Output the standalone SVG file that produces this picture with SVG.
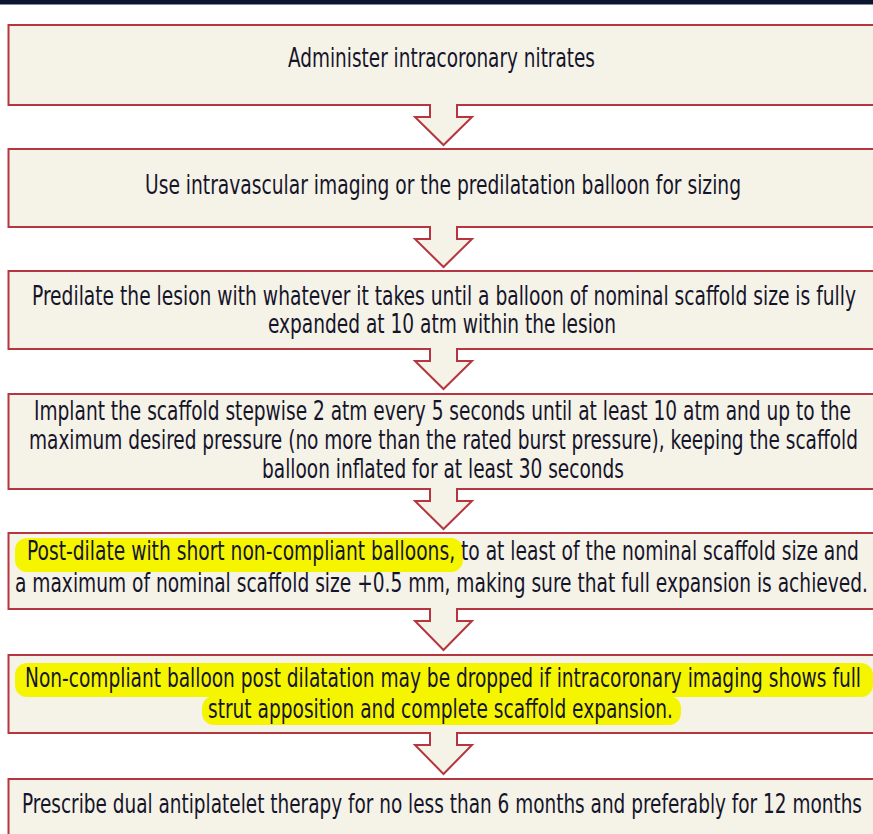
<svg xmlns="http://www.w3.org/2000/svg" width="873" height="834" viewBox="0 0 873 834">
<style>
.box{fill:#f5f2e8;stroke:#b5363f;stroke-width:2}
.arr{fill:#f5f2e8;stroke:#b5363f;stroke-width:2;stroke-linejoin:miter}
.cov{fill:#f5f2e8}
text{font-family:"Liberation Sans Narrow","DejaVu Sans Condensed","Liberation Sans",Arial,sans-serif;font-size:26px;fill:#15152a}
.hl{fill:#f5f500}
</style>
<rect x="0" y="0" width="873" height="834" fill="#ffffff"/>
<rect x="0" y="0" width="873" height="4.5" fill="#0b1530"/>
<g id="n1"><rect class="box" x="8.5" y="25" width="875" height="80"/>
<text x="0" y="67" transform="translate(288,0) scale(0.75,1)" textLength="409.3" lengthAdjust="spacingAndGlyphs">Administer intracoronary nitrates</text></g>
<g id="n2"><rect class="box" x="8.5" y="149" width="875" height="78"/>
<text x="0" y="194" transform="translate(145,0) scale(0.75,1)" textLength="794.7" lengthAdjust="spacingAndGlyphs">Use intravascular imaging or the predilatation balloon for sizing</text></g>
<g id="n3"><rect class="box" x="8.5" y="271" width="875" height="78"/>
<text x="0" y="305" transform="translate(32,0) scale(0.75,1)" textLength="1098.7" lengthAdjust="spacingAndGlyphs">Predilate the lesion with whatever it takes until a balloon of nominal scaffold size is fully</text>
<text x="0" y="333" transform="translate(268,0) scale(0.75,1)" textLength="464" lengthAdjust="spacingAndGlyphs">expanded at 10 atm within the lesion</text></g>
<g id="n4"><rect class="box" x="8.5" y="394" width="875" height="95"/>
<text x="0" y="420" transform="translate(34,0) scale(0.75,1)" textLength="1089.3" lengthAdjust="spacingAndGlyphs">Implant the scaffold stepwise 2 atm every 5 seconds until at least 10 atm and up to the</text>
<text x="0" y="449" transform="translate(29,0) scale(0.75,1)" textLength="1105.3" lengthAdjust="spacingAndGlyphs">maximum desired pressure (no more than the rated burst pressure), keeping the scaffold</text>
<text x="0" y="478" transform="translate(262,0) scale(0.75,1)" textLength="482.7" lengthAdjust="spacingAndGlyphs">balloon inflated for at least 30 seconds</text></g>
<g id="n5"><rect class="box" x="8.5" y="533" width="875" height="76"/>
<rect class="hl" x="15" y="538" width="448" height="34" rx="12"/>
<text x="0" y="560" transform="translate(27,0) scale(0.75,1)" textLength="1109.3" lengthAdjust="spacingAndGlyphs">Post-dilate with short non-compliant balloons, to at least of the nominal scaffold size and</text>
<text x="0" y="592" transform="translate(15,0) scale(0.75,1)" textLength="1137.3" lengthAdjust="spacingAndGlyphs">a maximum of nominal scaffold size +0.5 mm, making sure that full expansion is achieved.</text></g>
<g id="n6"><rect class="box" x="8.5" y="655" width="875" height="78"/>
<rect class="hl" x="15" y="663" width="858" height="34" rx="12"/>
<rect class="hl" x="202" y="696" width="479" height="29" rx="12"/>
<text x="0" y="687" transform="translate(25,0) scale(0.75,1)" textLength="1114.7" lengthAdjust="spacingAndGlyphs">Non-compliant balloon post dilatation may be dropped if intracoronary imaging shows full</text>
<text x="0" y="718" transform="translate(208,0) scale(0.75,1)" textLength="620" lengthAdjust="spacingAndGlyphs">strut apposition and complete scaffold expansion.</text></g>
<g id="n7"><rect class="box" x="8.5" y="779" width="875" height="70"/>
<text x="0" y="813" transform="translate(22,0) scale(0.75,1)" textLength="1120" lengthAdjust="spacingAndGlyphs">Prescribe dual antiplatelet therapy for no less than 6 months and preferably for 12 months</text></g>
<g id="connectors">
<path class="arr" d="M430,105 V117 H415 L443.5,145 L472,117 H457 V105"/><rect class="cov" x="431" y="103" width="25" height="4"/>
<path class="arr" d="M430,227 V239 H415 L443.5,267 L472,239 H457 V227"/><rect class="cov" x="431" y="225" width="25" height="4"/>
<path class="arr" d="M430,349 V361 H415 L443.5,389 L472,361 H457 V349"/><rect class="cov" x="431" y="347" width="25" height="4"/>
<path class="arr" d="M430,489 V501 H415 L443.5,529 L472,501 H457 V489"/><rect class="cov" x="431" y="487" width="25" height="4"/>
<path class="arr" d="M430,609 V621 H415 L443.5,650 L472,621 H457 V609"/><rect class="cov" x="431" y="607" width="25" height="4"/>
<path class="arr" d="M430,733 V745 H415 L443.5,774 L472,745 H457 V733"/><rect class="cov" x="431" y="731" width="25" height="4"/>
</g>
</svg>
